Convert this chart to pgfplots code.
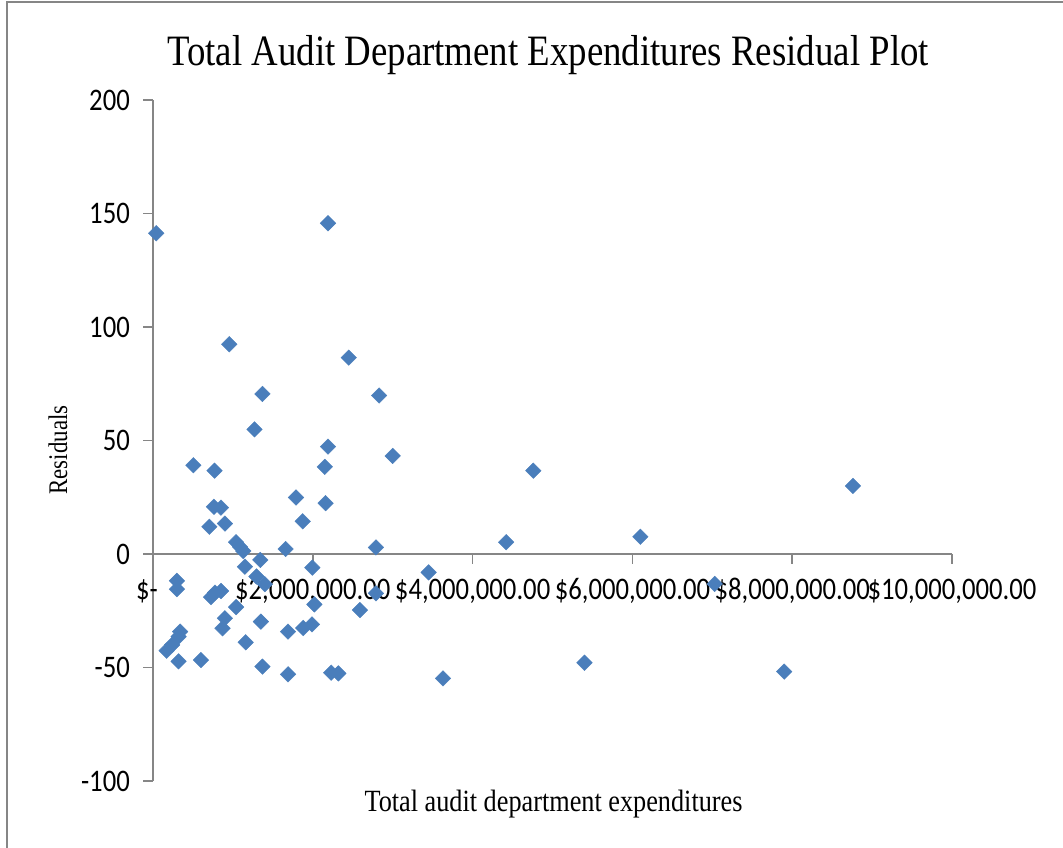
\documentclass[border=0pt]{standalone}
\usepackage{pgfplots}
\pgfplotsset{compat=1.18}
\usepackage{pgfplotstable}
\usepackage{graphicx}
\usepackage{fontspec}
\setmainfont{Liberation Serif}
\newfontfamily\calibri{Carlito}
\definecolor{axgray}{HTML}{868686}
\definecolor{mk}{HTML}{4A7EBB}
\newcommand\nx[1]{\scalebox{0.85}[1]{#1}}
\pgfplotstableread{
x y
40000 141.3
2190000 145.7
955000 92.4
2450000 86.5
1370000 70.5
2830000 69.8
1270000 54.9
2190000 47.3
3000000 43.2
505000 39.1
770000 36.7
2150000 38.4
4760000 36.7
8760000 30.0
1790000 24.9
2160000 22.4
763000 20.8
851000 20.4
1874000 14.4
900000 13.4
705000 12.0
1040000 5.2
1090000 3.1
1130000 1.3
1660000 2.2
2790000 2.9
4420000 5.2
6100000 7.6
1343000 -2.6
1151000 -5.6
1994000 -6.0
3450000 -8.1
1295000 -9.9
1400000 -13.3
300000 -11.8
300000 -15.5
7030000 -13.2
726000 -19.0
776000 -17.0
851000 -16.3
2790000 -17.3
2020000 -22.2
1040000 -23.4
2590000 -24.7
900000 -28.3
870000 -32.7
1350000 -29.8
1990000 -31.0
1880000 -32.6
1690000 -34.2
340000 -34.2
320000 -36.4
240000 -40.0
170000 -42.6
320000 -47.3
600000 -46.7
1160000 -38.9
1370000 -49.6
1690000 -53.0
2230000 -52.3
2320000 -52.6
3630000 -54.8
5400000 -47.9
7900000 -51.8
}\residuals
\begin{document}
\begin{tikzpicture}
\useasboundingbox (0bp,0bp) rectangle (1063bp,848bp);
\draw[axgray, line width=1.5bp] (7bp,0bp) -- (7bp,846bp) -- (1063bp,846bp);
\begin{axis}[
  at={(153bp,67bp)}, anchor=south west,
  scale only axis, width=799bp, height=681bp,
  xmin=0, xmax=10000000, ymin=-100, ymax=200,
  axis x line=middle, axis y line=left,
  axis line style={-, axgray, line width=1.5bp},
  hide obscured x ticks=false, hide obscured y ticks=false,
  scaled x ticks=false, scaled y ticks=false,
  xtick={0,2000000,4000000,6000000,8000000,10000000},
  xticklabels={{\nx{\$-}\hspace*{12bp}},{\nx{\$2,000,000.00}},{\nx{\$4,000,000.00}},{\nx{\$6,000,000.00}},{\nx{\$8,000,000.00}},{\nx{\$10,000,000.00}}},
  ytick={-100,-50,0,50,100,150,200},
  yticklabels={\nx{-100},\nx{-50},\nx{0},\nx{50},\nx{100},\nx{150},\nx{200}},
  tick align=outside, major tick length=10bp,
  tick style={axgray, line width=1.5bp},
  tick label style={font=\calibri\fontsize{31.5}{36}\selectfont, text=black, inner sep=0pt},
  xticklabel style={anchor=base, yshift=-36bp},
  yticklabel style={anchor=east, xshift=-13bp},
  clip=false,
]
\addplot[only marks, mark=square*, mark size=5.5bp,
  mark options={rotate=45, fill=mk, draw=mk}] table[x=x,y=y] {\residuals};
\end{axis}
\node[font=\fontsize{43.5}{48}\selectfont, anchor=base, inner sep=0pt] at (548bp,782bp) {\nx{Total Audit Department Expenditures Residual Plot}};
\node[font=\fontsize{31}{36}\selectfont, anchor=base, inner sep=0pt] at (553.5bp,37bp) {\nx{Total audit department expenditures}};
\node[font=\fontsize{27}{32}\selectfont, rotate=90, inner sep=0pt] at (58bp,398bp) {\scalebox{0.85}[1]{Residuals}};
\end{tikzpicture}
\end{document}
